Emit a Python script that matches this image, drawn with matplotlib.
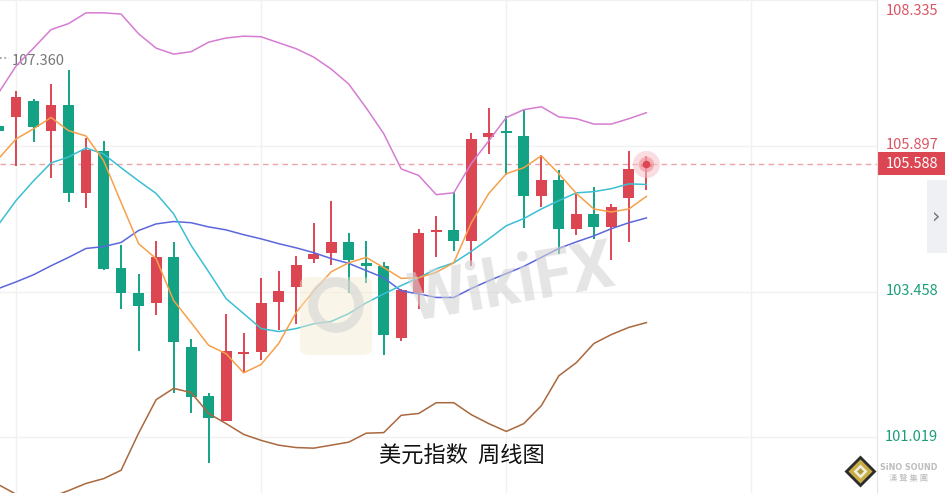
import matplotlib
matplotlib.use("Agg")
import matplotlib.pyplot as plt
import matplotlib.patches as patches
from matplotlib.lines import Line2D
import numpy as np

plt.rcParams['font.family'] = ['Noto Sans CJK SC', 'DejaVu Sans']

# weekly USD index candles (last visible 38 weeks)
opens = [106.23, 106.37, 106.65, 106.15, 106.58, 105.11, 105.81, 103.86, 103.44, 103.26,
         104.03, 102.54, 101.72, 101.30, 102.41, 102.44, 103.29, 103.53, 104.01, 104.11,
         104.28, 103.94, 103.89, 102.69, 103.44, 104.45, 104.49, 104.31, 106.05, 106.12,
         106.06, 105.06, 105.33, 104.51, 104.76, 104.54, 105.03, 105.54]
closes = [106.15, 106.72, 106.21, 106.58, 105.10, 105.83, 103.84, 103.43, 103.21, 104.03,
          102.61, 101.70, 101.34, 102.46, 102.43, 103.26, 103.46, 103.91, 104.08, 104.28,
          103.98, 103.89, 102.74, 103.48, 104.43, 104.47, 104.31, 106.01, 106.11, 106.11,
          105.06, 105.33, 104.51, 104.76, 104.54, 104.88, 105.51, 105.588]
highs = [106.28, 106.82, 106.68, 106.93, 107.17, 106.03, 105.98, 104.24, 103.76, 104.31,
         104.28, 102.66, 101.77, 103.09, 102.77, 103.69, 103.81, 104.06, 104.61, 104.98,
         104.43, 104.31, 103.96, 103.51, 104.51, 104.73, 105.13, 106.11, 106.53, 106.40,
         106.50, 105.75, 105.50, 105.10, 105.20, 104.93, 105.81, 105.72]
lows = [106.10, 105.56, 105.96, 105.36, 104.96, 104.86, 103.82, 103.17, 102.47, 103.06,
        101.77, 101.42, 100.60, 101.30, 102.09, 102.31, 102.81, 102.92, 103.94, 103.91,
        103.43, 103.61, 102.39, 102.64, 103.17, 104.03, 104.14, 103.89, 105.76, 105.41,
        104.53, 104.88, 104.09, 104.41, 104.34, 103.98, 104.28, 105.16]

# indicator lines
boll_upper = [106.78, 107.23, 107.53, 107.84, 107.94, 108.12, 108.12, 108.10, 107.77, 107.53,
              107.43, 107.47, 107.63, 107.70, 107.73, 107.72, 107.62, 107.52, 107.38, 107.18,
              106.93, 106.53, 106.10, 105.51, 105.40, 105.08, 105.11, 105.60, 105.98, 106.37,
              106.50, 106.55, 106.38, 106.35, 106.26, 106.26, 106.35, 106.45]
boll_lower = [100.23, 100.07, 99.97, 100.02, 100.13, 100.25, 100.33, 100.47, 101.09, 101.65,
              101.84, 101.77, 101.42, 101.25, 101.07, 100.97, 100.89, 100.85, 100.84, 100.89,
              100.94, 101.09, 101.10, 101.39, 101.42, 101.60, 101.60, 101.40, 101.25, 101.12,
              101.25, 101.55, 102.05, 102.27, 102.59, 102.74, 102.86, 102.94]
ma5 = [105.68, 106.01, 106.18, 106.37, 106.15, 106.06, 105.65, 104.95, 104.26, 104.01,
       103.31, 102.94, 102.56, 102.42, 102.10, 102.24, 102.59, 103.11, 103.47, 103.79,
       103.94, 104.03, 103.86, 103.68, 103.69, 103.78, 103.94, 104.61, 105.10, 105.43,
       105.53, 105.73, 105.43, 105.10, 104.84, 104.79, 104.84, 105.05]
ma10 = [104.58, 104.98, 105.31, 105.61, 105.71, 105.86, 105.76, 105.53, 105.31, 105.10,
        104.76, 104.23, 103.79, 103.34, 103.09, 102.84, 102.79, 102.84, 102.92, 102.96,
        103.09, 103.27, 103.42, 103.56, 103.69, 103.84, 103.94, 104.13, 104.34, 104.56,
        104.68, 104.84, 104.98, 105.11, 105.13, 105.18, 105.26, 105.25]
ma20 = [103.51, 103.62, 103.74, 103.89, 104.03, 104.18, 104.21, 104.28, 104.48, 104.59,
        104.63, 104.61, 104.54, 104.49, 104.41, 104.34, 104.26, 104.19, 104.11, 104.01,
        103.93, 103.81, 103.69, 103.47, 103.42, 103.36, 103.36, 103.51, 103.64, 103.76,
        103.88, 104.03, 104.18, 104.29, 104.39, 104.51, 104.61, 104.69]

price_levels = [108.335, 105.897, 103.458, 101.019]
last_price = 105.588
high_label = 107.360
title = '美元指数  周线图'

UP = '#dc4653'
DOWN = '#13a384'
W, H = 947, 493

fig = plt.figure(figsize=(W / 100, H / 100), dpi=100)
ax = fig.add_axes([0, 0, 877 / W, 1])
ymin, ymax = 100.09, 108.32
ax.set_xlim(0.086, 50.17)
ax.set_ylim(ymin, ymax)
for s in ax.spines.values():
    s.set_visible(False)
ax.set_xticks([1, 15, 29, 43])
ax.set_yticks(price_levels)
ax.tick_params(length=0, labelleft=False, labelbottom=False)
ax.grid(color='#f1f1f1', lw=1)
ax.set_axisbelow(True)

x = np.arange(len(opens))
o = np.array(opens); c = np.array(closes)
up = c >= o
colors = np.where(up, UP, DOWN)
ax.vlines(x, lows, highs, colors=colors, lw=1.4, zorder=2)
bottoms = np.minimum(o, c)
heights = np.maximum(np.abs(c - o), 0.035)
ax.bar(x, heights, bottom=bottoms, width=0.62, color=colors, zorder=3)

ax.plot(x, boll_upper, color='#d67cd2', lw=1.1, zorder=4)
ax.plot(x, boll_lower, color='#a9683d', lw=1.1, zorder=4)
ax.plot(x, ma20, color='#5b67dc', lw=1.1, zorder=4)
ax.plot(x, ma10, color='#3cbfd3', lw=1.1, zorder=4)
ax.plot(x, ma5, color='#f6a14a', lw=1.1, zorder=4)

ax.axhline(last_price, color='#eba4ad', lw=1, ls=(0, (4, 3)), zorder=1)
ax.scatter([x[-1]], [last_price], s=380, color='#f6c2c7', alpha=0.55, lw=0, zorder=5)
ax.scatter([x[-1]], [last_price], s=120, color='#ef8f99', alpha=0.6, lw=0, zorder=5)
ax.scatter([x[-1]], [last_price], s=30, color=UP, lw=0, zorder=6)

ax.plot([0.09, 0.6], [high_label + 0.01] * 2, ls=':', color='#999999', lw=1.2)
ax.text(0.75, high_label - 0.04, f'{high_label:.3f}', color='#777777', fontsize=10.5,
        ha='left', va='center')

# watermark
fig.text(512 / W, 1 - 285 / H, 'WikiFX', rotation=10, fontsize=48, fontweight='bold',
         family='Roboto', color='#d4d4d4', alpha=0.6, ha='center', va='center', zorder=10)
fig.add_artist(patches.FancyBboxPatch((300 / W, 1 - 355 / H), 72 / W, 78 / H,
               boxstyle='round,pad=0,rounding_size=0.012', fc='#f6ebcf', ec='none',
               alpha=0.45, transform=fig.transFigure, zorder=9))
fig.add_artist(patches.Ellipse((336 / W, 1 - 305 / H), 46 / W, 46 / H, fc='none',
               ec='#d4d4d4', lw=7, alpha=0.6, transform=fig.transFigure, zorder=9))

# right price panel
axr = fig.add_axes([877 / W, 0, 70 / W, 1])
axr.set_xlim(0, 1)
axr.set_ylim(ymin, ymax)
axr.set_xticks([]); axr.set_yticks([])
for k, s in axr.spines.items():
    s.set_visible(k == 'left')
axr.spines['left'].set_color('#e4e4e4')
k_px = (ymax - ymin) / H
for lv in price_levels:
    col = '#d95562' if lv > last_price else '#1a9e7a'
    yv = min(lv, ymax - 11 * k_px)
    axr.text(0.875, yv, f'{lv:.3f}', color=col, fontsize=10.5, ha='right', va='center')
axr.add_patch(patches.Rectangle((0, last_price - 11.5 * k_px), 0.97, 23 * k_px,
                                color='#dc4653', lw=0))
axr.text(0.875, last_price, f'{last_price:.3f}', color='white', fontsize=10.5,
         ha='right', va='center')
axr.add_patch(patches.Rectangle((0.714, ymax - 253 * k_px), 0.3, 73 * k_px,
                                color='#eef0f3', lw=0))
axr.text(0.84, ymax - 216 * k_px, '›', color='#777777', fontsize=15, ha='center', va='center',
         family='DejaVu Sans')

# title
fig.text(462 / W, 1 - 456 / H, title, fontsize=16, color='#111111', ha='center', va='center')

# corner logo
for ms, fc in [(16, '#2d2d2d'), (12, '#c9ae45'), (7, '#f3efe0'), (3.5, '#b09a3a')]:
    fig.add_artist(Line2D([860 / W], [1 - 471 / H], marker='D', ms=ms, mfc=fc, mec='none',
                          transform=fig.transFigure, zorder=11))
fig.text(909 / W, 1 - 467 / H, 'SiNO SOUND', fontsize=5.8, fontweight='bold', color='#bdbdbd',
         family='DejaVu Sans', ha='center', va='center', zorder=11)
fig.text(909 / W, 1 - 479 / H, '漢 聲 集 團', fontsize=6, color='#bdbdbd',
         ha='center', va='center', zorder=11)

fig.savefig('out.png', dpi=100)
